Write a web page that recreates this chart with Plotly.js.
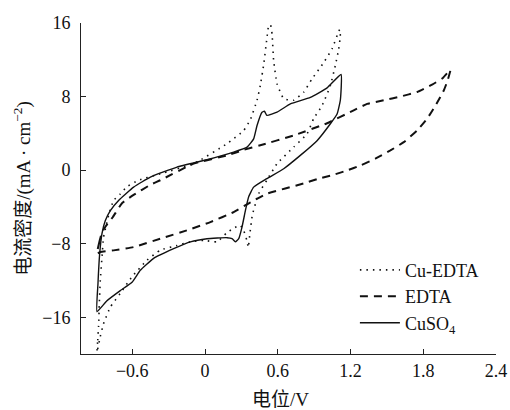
<!DOCTYPE html>
<html>
<head>
<meta charset="utf-8">
<script src="https://cdn.plot.ly/plotly-3.0.1.min.js"></script>
<style>html,body{margin:0;padding:0;background:#fff;}#chart{width:510px;height:410px;}</style>
</head>
<body>
<div id="chart"></div>
<script>
// ---- Data ----
const cuEdtaX = [-0.891, -0.885, -0.878, -0.872, -0.864, -0.85, -0.837, -0.815, -0.795, -0.754, -0.699, -0.644, -0.548, -0.369, -0.094, 0.181, 0.319, 0.374, 0.429, 0.456, 0.484, 0.51, 0.525, 0.54, 0.553, 0.566, 0.594, 0.649, 0.731, 0.814, 0.883, 0.979, 1.048, 1.111,
                 1.116, 1.103, 1.075, 1.034, 0.965, 0.896, 0.842, 0.731, 0.594, 0.51, 0.442, 0.39, 0.37, 0.357, 0.345, 0.32, 0.29, 0.24, 0.181, 0.099, -0.012, -0.121, -0.231, -0.369, -0.479, -0.602, -0.699, -0.781, -0.837, -0.864, -0.891];
const cuEdtaY = [-19.8, -18.5, -17.0, -14.5, -12.0, -9.5, -7.3, -6.0, -4.9, -3.3, -2.6, -1.8, -1.1, -0.4, 0.7, 2.87, 4.3, 5.5, 7.6, 9.2, 11.5, 14.3, 15.7, 15.8, 14.8, 11.9, 9.4, 7.76, 7.6, 8.48, 9.93, 11.7, 13.2, 15.3,
                 14.6, 13.2, 11.4, 9.2, 7.0, 5.6, 3.96, 2.5, 0.7, -1.1, -2.57, -4.9, -6.9, -8.4, -7.64, -6.6, -6.0, -6.3, -6.8, -7.8, -7.64, -7.8, -8.2, -8.7, -9.8, -11.6, -13.4, -14.9, -16.7, -18.1, -19.8];

const edtaX = [-0.891, -0.875, -0.855, -0.83, -0.76, -0.685, -0.589, -0.451, -0.369, -0.094, 0.181, 0.319, 0.456, 0.731, 1.007, 1.226, 1.337, 1.474, 1.611, 1.75, 1.873, 1.96, 2.024,
               1.997, 1.969, 1.9, 1.832, 1.749, 1.639, 1.529, 1.405, 1.281, 1.172, 1.061, 0.937, 0.814, 0.51, 0.374, 0.236, 0.044, -0.149, -0.369, -0.589, -0.754, -0.864, -0.891];
const edtaY = [-9.1, -8.0, -7.0, -6.3, -5.1, -3.6, -2.7, -1.6, -1.1, 0.7, 1.6, 2.2, 2.7, 3.77, 5.1, 6.5, 7.2, 7.6, 8.0, 8.5, 9.3, 10.0, 10.9,
               9.6, 8.66, 7.0, 5.6, 4.3, 3.04, 2.14, 1.24, 0.5, -0.03, -0.5, -0.93, -1.45, -2.57, -3.5, -4.57, -5.65, -6.55, -7.46, -8.37, -8.73, -8.9, -9.1];

const cuso4X = [-0.891, -0.883, -0.869, -0.85, -0.823, -0.781, -0.713, -0.589, -0.451, -0.231, 0.016, 0.236, 0.347, 0.401, 0.429, 0.47, 0.49, 0.51, 0.594, 0.704, 0.869, 1.007, 1.122,
                1.116, 1.089, 1.034, 0.924, 0.786, 0.649, 0.51, 0.401, 0.36, 0.333, 0.305, 0.278, 0.25, 0.223, 0.181, 0.016, -0.121, -0.259, -0.424, -0.534, -0.602, -0.699, -0.809, -0.891];
const cuso4Y = [-15.4, -12.35, -9.1, -6.9, -5.5, -4.4, -3.3, -1.85, -0.76, 0.33, 1.13, 1.96, 2.5, 3.4, 4.86, 6.3, 6.4, 5.95, 6.3, 7.2, 7.9, 8.95, 10.4,
                7.6, 6.1, 5.04, 3.2, 1.6, 0.15, -0.93, -1.85, -2.9, -4.4, -6.2, -7.46, -7.8, -7.46, -7.35, -7.46, -7.8, -8.55, -9.6, -10.9, -12.2, -13.1, -14.2, -15.4];

const seriesNames = ['Cu-EDTA', 'EDTA', 'CuSO<sub>4</sub>'];
const xTickVals = [-0.6, 0, 0.6, 1.2, 1.8, 2.4];
const xTickText = ['\u22120.6', '0', '0.6', '1.2', '1.8', '2.4'];
const yTickVals = [-16, -8, 0, 8, 16];
const yTickText = ['\u221216', '\u22128', '0', '8', '16'];
const xTitle = '电位/V';
const yTitle = '电流密度/(mA · cm<sup>\u22122</sup>)';

// ---- Chart ----
const serif = "Liberation Serif, Noto Sans CJK SC, serif";
const traces = [
  {x: cuEdtaX, y: cuEdtaY, name: seriesNames[0], mode: 'lines', type: 'scatter',
   line: {color: '#111', width: 1.6, dash: '1.5px,5px', shape: 'spline', smoothing: 0.4}},
  {x: edtaX, y: edtaY, name: seriesNames[1], mode: 'lines', type: 'scatter',
   line: {color: '#111', width: 2, dash: '8px,6px', shape: 'spline', smoothing: 0.4}},
  {x: cuso4X, y: cuso4Y, name: seriesNames[2], mode: 'lines', type: 'scatter',
   line: {color: '#111', width: 1.4, shape: 'spline', smoothing: 0.4}}
];

const axisCommon = {
  showgrid: false, zeroline: false, showline: true, linecolor: '#222', linewidth: 1,
  ticks: 'inside', ticklen: 5, tickwidth: 1, tickcolor: '#222',
  tickfont: {family: serif, size: 18, color: '#111'}
};

const layout = {
  width: 510, height: 410,
  margin: {l: 81, r: 14, t: 23, b: 56},
  paper_bgcolor: '#fff', plot_bgcolor: '#fff',
  font: {family: serif, size: 18, color: '#111'},
  showlegend: true,
  legend: {x: 0.66, y: 0.309, xanchor: 'left', yanchor: 'top', bgcolor: 'rgba(0,0,0,0)',
           font: {family: serif, size: 18, color: '#111'}, itemwidth: 40, tracegroupgap: 0},
  xaxis: Object.assign({}, axisCommon, {
    range: [-1.023, 2.4], tickmode: 'array', tickvals: xTickVals, ticktext: xTickText
  }),
  yaxis: Object.assign({}, axisCommon, {
    range: [-20, 16], tickmode: 'array', tickvals: yTickVals, ticktext: yTickText,
    ticklabelstandoff: 6,
    title: {text: yTitle, font: {family: serif, size: 19, color: '#111'}, standoff: 6}
  }),
  annotations: [
    {text: xTitle, xref: 'paper', yref: 'paper', x: 0.48, y: 0, yshift: -45, xanchor: 'center', yanchor: 'middle',
     showarrow: false, font: {family: serif, size: 19, color: '#111'}}
  ]
};

Plotly.newPlot('chart', traces, layout, {staticPlot: true, displayModeBar: false});
</script>
</body>
</html>
